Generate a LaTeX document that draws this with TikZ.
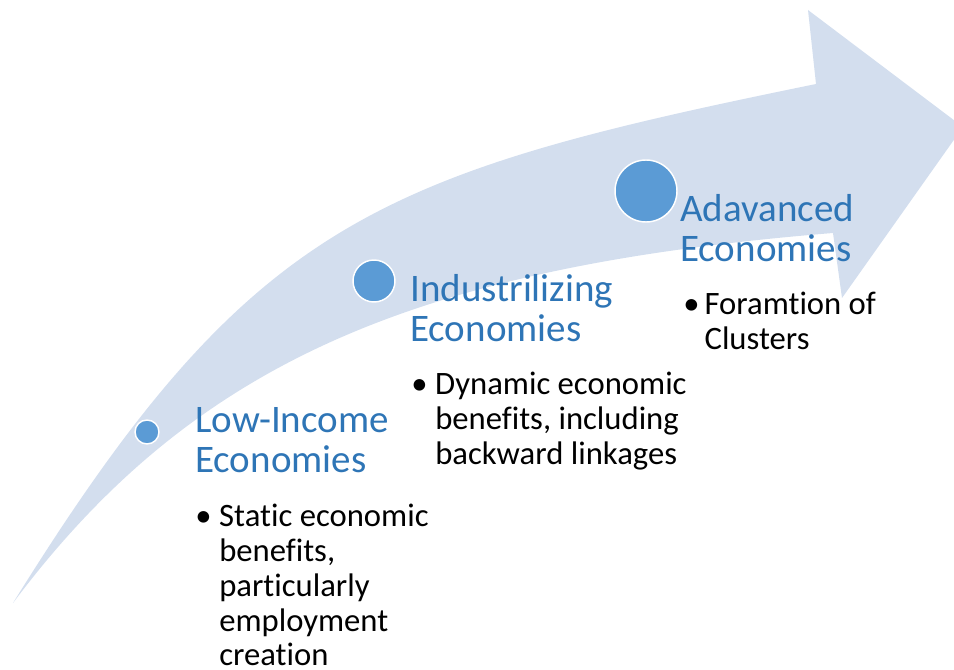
\documentclass[tikz,border=0pt]{standalone}
\usepackage{fontspec}
\setmainfont[Ligatures={NoCommon}]{Carlito}
\definecolor{arrowc}{RGB}{211,222,238}
\definecolor{dotc}{RGB}{91,155,213}
\definecolor{headc}{RGB}{46,117,182}
\begin{document}
\begin{tikzpicture}[x=0.75pt,y=-0.75pt,
  dot/.style={circle,fill=dotc,draw=white,line width=1.1pt,inner sep=0pt},
  head/.style={anchor=base west,inner sep=0pt,text=headc,font=\fontsize{29.25pt}{30pt}\selectfont},
  blist/.style={anchor=base west,inner sep=0pt,text=black,font=\fontsize{24.5pt}{26.25pt}\selectfont}]
\useasboundingbox (0,0) rectangle (954,670);
\clip (0,0) rectangle (954,670);
\fill[arrowc] (13,603) .. controls (251,220) and (375,174) .. (816,84)
  -- (808,10) -- (963,127) -- (842,298) -- (833,233)
  .. controls (414,267) and (193,363) .. (13,603) -- cycle;
\node[dot,minimum size=24pt*0.75] (c1) at (147,432) {};
\node[dot,minimum size=42pt*0.75] (c2) at (374,281) {};
\node[dot,minimum size=62pt*0.75] (c3) at (646,191) {};
\node[head] (h1) at (195,433) {\begin{tabular}[t]{@{}l@{}}Low-Income\\Economies\end{tabular}};
\node[head] (h2) at (410,302) {\begin{tabular}[t]{@{}l@{}}Industrilizing\\Economies\end{tabular}};
\node[head] (h3) at (680,222) {\begin{tabular}[t]{@{}l@{}}Adavanced\\Economies\end{tabular}};
\node[blist] (b1) at (195,526) {\begin{tabular}[t]{@{}l@{}l@{}}\makebox[18pt][l]{\textbullet} & Static economic\\ & benefits,\\ & particularly\\ & employment\\ & creation\end{tabular}};
\node[blist] (b2) at (411,395) {\begin{tabular}[t]{@{}l@{}l@{}}\makebox[18pt][l]{\textbullet} & Dynamic economic\\ & benefits, including\\ & backward linkages\end{tabular}};
\node[blist] (b3) at (683,315) {\begin{tabular}[t]{@{}l@{}l@{}}\makebox[16pt][l]{\textbullet} & Foramtion of\\ & Clusters\end{tabular}};
\end{tikzpicture}
\end{document}
